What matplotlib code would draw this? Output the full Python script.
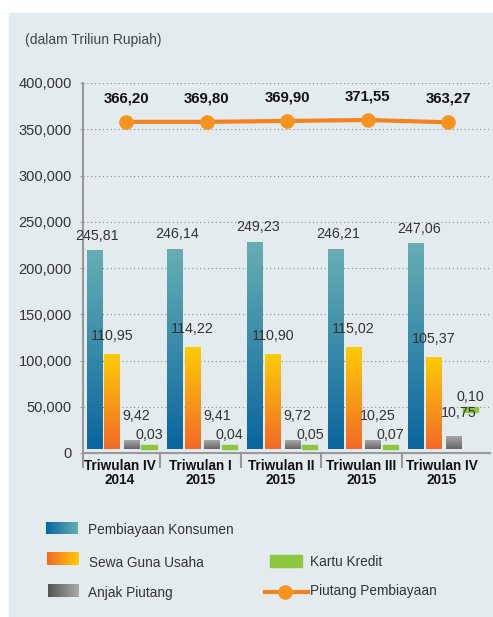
import numpy as np
import matplotlib
matplotlib.use("Agg")
import matplotlib.pyplot as plt
from matplotlib.colors import LinearSegmentedColormap
from matplotlib.patches import Rectangle

# data (tinggi batang dibaca dari sumbu gambar, label dari teks gambar)
kategori = ["Triwulan IV\n2014", "Triwulan I\n2015", "Triwulan II\n2015",
            "Triwulan III\n2015", "Triwulan IV\n2015"]
pembiayaan_konsumen = [218400, 220500, 228000, 220500, 226000]
sewa_guna_usaha = [106000, 113500, 106000, 113500, 102700]
anjak_piutang = [14000, 14000, 14000, 14000, 17300]
kartu_kredit = [8600, 8600, 8600, 8600, 49700]
kartu_kredit_bawah = [0, 0, 0, 0, 44300]
piutang_pembiayaan = [358000, 358000, 359000, 360000, 357500]

label_pk = ["245,81", "246,14", "249,23", "246,21", "247,06"]
label_sgu = ["110,95", "114,22", "110,90", "115,02", "105,37"]
label_ap = ["9,42", "9,41", "9,72", "10,25", "10,75"]
label_kk = ["0,03", "0,04", "0,05", "0,07", "0,10"]
label_piutang = ["366,20", "369,80", "369,90", "371,55", "363,27"]

plt.rcParams["font.family"] = ["Liberation Sans", "DejaVu Sans"]

W, H = 493, 617
BG = "#e4ebee"
BASE = 4300
FS = 10.3

fig = plt.figure(figsize=(W / 100, H / 100), dpi=100)
fig.patch.set_facecolor("white")

# panel latar abu-abu
bg = fig.add_axes([0, 0, 1, 1])
bg.set_xlim(0, W)
bg.set_ylim(H, 0)
bg.axis("off")
bg.add_patch(Rectangle((9, 13), W - 9, H - 13, color=BG, zorder=0))


def gradien(ax, x0, x1, y0, y1, c1, c2, arah="v", z=3):
    cmap = LinearSegmentedColormap.from_list("g", [c1, c2])
    if arah == "v":
        arr = np.linspace(0, 1, 100).reshape(-1, 1)
    else:
        arr = np.linspace(0, 1, 100).reshape(1, -1)
    ax.imshow(arr, extent=[x0, x1, y0, y1], origin="lower", cmap=cmap,
              aspect="auto", zorder=z, interpolation="bilinear")


# axes utama
x0px, x1px, ytop, ybot = 83, 490, 83, 453
ax = fig.add_axes([x0px / W, (H - ybot) / H, (x1px - x0px) / W, (ybot - ytop) / H])
ax.set_facecolor("none")

x = np.arange(len(kategori))
lebar = 0.19
off = [-0.32, -0.10, 0.145, 0.36]

for i in range(len(x)):
    xc = x[i] + off[0]
    gradien(ax, xc - lebar / 2, xc + lebar / 2, BASE, pembiayaan_konsumen[i], "#0a66a0", "#67aeb3")
    ax.annotate(label_pk[i], (xc, pembiayaan_konsumen[i]), xytext=(2, 11), textcoords="offset points",
                ha="center", va="center", fontsize=FS, color="#333333", zorder=6)
    xc = x[i] + off[1]
    gradien(ax, xc - lebar / 2, xc + lebar / 2, BASE, sewa_guna_usaha[i], "#f26a26", "#ffcb05")
    ax.annotate(label_sgu[i], (xc, sewa_guna_usaha[i]), xytext=(0, 14), textcoords="offset points",
                ha="center", va="center", fontsize=FS, color="#333333", zorder=6)
    xc = x[i] + off[2]
    gradien(ax, xc - lebar / 2, xc + lebar / 2, BASE, anjak_piutang[i], "#666666", "#a8a8a8")
    ax.annotate(label_ap[i], (xc, anjak_piutang[i]), xytext=(3.5, 17), textcoords="offset points",
                ha="center", va="center", fontsize=FS, color="#333333", zorder=6)
    xc = x[i] + off[3]
    bawah = max(kartu_kredit_bawah[i], BASE)
    ax.add_patch(Rectangle((xc - lebar / 2, bawah), lebar, kartu_kredit[i] - bawah,
                           color="#8dc63f", zorder=3))
    ax.annotate(label_kk[i], (xc, kartu_kredit[i]), xytext=(0, 7.5), textcoords="offset points",
                ha="center", va="center", fontsize=FS, color="#333333", zorder=6)

# garis piutang pembiayaan
xl = x + 0.08
ax.plot(xl, piutang_pembiayaan, color="#f58220", lw=3, zorder=4)
ax.plot(xl, piutang_pembiayaan, "o", color="#f7941d", ms=9.5, zorder=5)
for i in range(len(x)):
    ax.annotate(label_piutang[i], (xl[i], piutang_pembiayaan[i]), xytext=(0, 17),
                textcoords="offset points", ha="center", va="center", fontsize=10.8,
                fontweight="bold", color="#111111", zorder=6)

ax.set_xlim(-0.46, 4.6)
ax.set_ylim(0, 400000)
ax.set_yticks(np.arange(0, 400001, 50000))
ax.set_yticklabels(["0"] + [f"{v:,}" for v in range(50000, 400001, 50000)])
ax.set_xticks(x)
ax.set_xticklabels(kategori, fontweight="bold", fontsize=9.8, color="#111111", linespacing=1.05)
ax.tick_params(axis="x", length=0, pad=4)
ax.tick_params(axis="y", length=2, color="#999999", labelsize=10.5, labelcolor="#333333", pad=6)
ax.yaxis.grid(True, linestyle=(0, (1, 2.5)), color="#8a8a8a", lw=0.8)
ax.set_axisbelow(True)
for s in ["top", "right", "left"]:
    ax.spines[s].set_visible(False)
ax.spines["bottom"].set_color("#999999")
ax.spines["bottom"].set_linewidth(1.5)

# sumbu y dan pemisah kategori turun di bawah sumbu x
turun = 14 / (ybot - ytop)
ax.plot([0, 0], [-turun, 1], transform=ax.transAxes, color="#999999", lw=1.5, clip_on=False, zorder=2)
for i in range(len(x) - 1):
    ax.plot([x[i] + 0.5, x[i] + 0.5], [0, -turun * 400000],
            color="#999999", lw=1.5, clip_on=False, zorder=2)

# judul satuan
bg.text(25, 40, "(dalam Triliun Rupiah)", fontsize=10, color="#444444", va="center", ha="left")

# legenda
gradien(bg, 46, 78, 534, 522, "#0a66a0", "#67aeb3", arah="h", z=2)
gradien(bg, 47, 79, 565, 552, "#f26a26", "#ffcb05", arah="h", z=2)
gradien(bg, 48, 79, 597, 584, "#555555", "#aaaaaa", arah="h", z=2)
bg.add_patch(Rectangle((270, 555), 32, 12, color="#8dc63f", zorder=2))
bg.plot([265, 308], [592, 592], color="#f58220", lw=3, zorder=2)
bg.plot([285], [592], "o", color="#f7941d", ms=9.5, zorder=3)
bg.set_xlim(0, W)
bg.set_ylim(H, 0)
teks = [(88, 530, "Pembiayaan Konsumen"), (89, 563, "Sewa Guna Usaha"),
        (88, 593, "Anjak Piutang"), (310, 562, "Kartu Kredit"),
        (310, 591, "Piutang Pembiayaan")]
for tx, ty, t in teks:
    bg.text(tx, ty, t, fontsize=9.8, color="#333333", va="center", ha="left")

fig.savefig("out.png", dpi=100, facecolor=fig.get_facecolor())
